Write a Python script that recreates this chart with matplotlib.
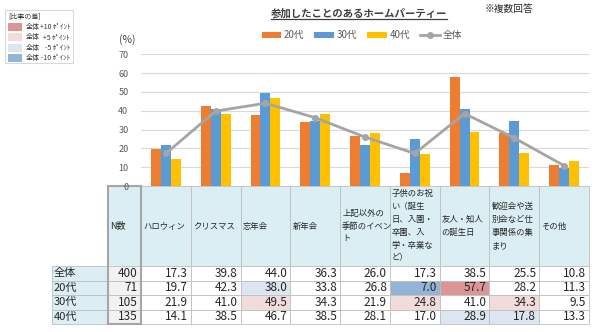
import matplotlib.pyplot as plt
from matplotlib.patches import Rectangle
from matplotlib.lines import Line2D
import numpy as np

plt.rcParams['font.family'] = ['Noto Sans CJK JP', 'DejaVu Sans']

categories = ['ハロウィン', 'クリスマス', '忘年会', '新年会',
              '上記以外の\n季節のイベン\nト',
              '子供のお祝\nい（誕生\n日、入園・\n卒園、入\n学・卒業な\nど）',
              '友人・知人\nの誕生日',
              '歓迎会や送\n別会など仕\n事関係の集\nまり',
              'その他']
groups = ['全体', '20代', '30代', '40代']
n_counts = [400, 71, 105, 135]
total = [17.3, 39.8, 44.0, 36.3, 26.0, 17.3, 38.5, 25.5, 10.8]
age20 = [19.7, 42.3, 38.0, 33.8, 26.8, 7.0, 57.7, 28.2, 11.3]
age30 = [21.9, 41.0, 49.5, 34.3, 21.9, 24.8, 41.0, 34.3, 9.5]
age40 = [14.1, 38.5, 46.7, 38.5, 28.1, 17.0, 28.9, 17.8, 13.3]
diff_labels = ['+10 ﾎﾟｲﾝﾄ', '+5 ﾎﾟｲﾝﾄ', '-5 ﾎﾟｲﾝﾄ', '-10 ﾎﾟｲﾝﾄ']

ORANGE, BLUE, YELLOW, GRAY = '#ED7D31', '#5B9BD5', '#FFC000', '#A5A5A5'
HEAD = '#DAEEF3'
DIFF_COLORS = ['#DA9694', '#F2DCDB', '#DCE6F1', '#95B3D7']

W, H = 600, 332
fig = plt.figure(figsize=(W / 100, H / 100), dpi=100)

# table / annotation layer in pixel coordinates
tab = fig.add_axes([0, 0, 1, 1], zorder=0)
tab.set_xlim(0, W)
tab.set_ylim(H, 0)
tab.axis('off')

# chart area
x0, x1 = 141, 589
y_zero, y_top = 186, 54.3
ax = fig.add_axes([x0 / W, (H - y_zero) / H, (x1 - x0) / W, (y_zero - y_top) / H], zorder=1)
ax.patch.set_alpha(0)

x = np.arange(len(categories))
w = 0.2
b20 = ax.bar(x - w, age20, w, color=ORANGE, label='20代', zorder=2)
b30 = ax.bar(x, age30, w, color=BLUE, label='30代', zorder=2)
b40 = ax.bar(x + w, age40, w, color=YELLOW, label='40代', zorder=2)
ln, = ax.plot(x, total, color=GRAY, lw=2, marker='o', ms=4, label='全体', zorder=3)

ax.set_xlim(-0.5, len(categories) - 0.5)
ax.set_ylim(0, 70)
ax.set_yticks(range(0, 80, 10))
ax.set_xticks([])
ax.tick_params(axis='y', length=0, pad=9, labelsize=6.5, labelcolor='#595959')
ax.grid(axis='y', color='#D9D9D9', lw=0.8)
ax.set_axisbelow(True)
for s in ax.spines.values():
    s.set_visible(False)

fig.legend(handles=[b20, b30, b40, ln], loc='center', bbox_to_anchor=(0.603, 0.894),
           ncol=4, frameon=False, fontsize=7, handlelength=2.0, handleheight=0.5,
           columnspacing=1.0, handletextpad=0.3, labelcolor='#595959')

# titles
title = fig.text(359 / W, 1 - 13 / H, '参加したことのあるホームパーティー',
                 ha='center', va='center', fontsize=7.5, weight='bold', color='#404040')
fig.canvas.draw()
bb = title.get_window_extent()
fig.add_artist(Line2D([bb.x0 / W, bb.x1 / W], [(bb.y0 - 1) / H] * 2,
                      color='#404040', lw=0.9))
fig.text(485 / W, 1 - 9 / H, '※複数回答', ha='left', va='center', fontsize=7, color='#262626')
tab.text(127, 40, '(%)', ha='center', va='center', fontsize=7.5, color='#404040')

# difference legend box
tab.add_patch(Rectangle((5, 10), 68, 53, fc='white', ec='#D9D9D9', lw=0.8))
tab.text(8, 17, '[比率の差]', fontsize=5, va='center', color='#333333')
for i, (c, lab) in enumerate(zip(DIFF_COLORS, diff_labels)):
    yy = 27 + i * 10.3
    tab.add_patch(Rectangle((8, yy - 4), 14, 8, fc=c, ec='none'))
    tab.text(26, yy, '全体', fontsize=5, va='center', color='#333333')
    tab.text(70, yy, lab, fontsize=5, va='center', ha='right', color='#333333')

# table
col_w = (x1 - x0) / len(categories)
head_top, head_bot, row_h = 186, 266, 14.5
n_left = 108

for i, cat in enumerate(categories):
    cx = x0 + i * col_w
    tab.add_patch(Rectangle((cx, head_top), col_w, head_bot - head_top,
                            fc=HEAD, ec='#BFBFBF', lw=0.6))
    tab.text(cx + 2, (head_top + head_bot) / 2, cat, ha='left', va='center',
             fontsize=6, linespacing=1.55, color='#262626')

tab.add_patch(Rectangle((n_left, head_top), x0 - n_left, head_bot - head_top,
                        fc=HEAD, ec='none'))
tab.text(n_left + 2, (head_top + head_bot) / 2, 'N数', ha='left', va='center',
         fontsize=6.5, color='#262626')

rows = [total, age20, age30, age40]
for r, (g, n, vals) in enumerate(zip(groups, n_counts, rows)):
    ry = head_bot + r * row_h
    tab.add_patch(Rectangle((52, ry), n_left - 52, row_h, fc=HEAD, ec='#BFBFBF', lw=0.6))
    tab.text(54, ry + row_h / 2, g, ha='left', va='center', fontsize=8, color='#262626')
    tab.add_patch(Rectangle((n_left, ry), x0 - n_left, row_h, fc='#F2F2F2', ec='#BFBFBF', lw=0.6))
    tab.text(x0 - 3, ry + row_h / 2, str(n), ha='right', va='center', fontsize=8.5, color='#262626')
    for i, v in enumerate(vals):
        fc = 'white'
        if r > 0:
            d = v - total[i]
            if d >= 10:
                fc = DIFF_COLORS[0]
            elif d >= 5:
                fc = DIFF_COLORS[1]
            elif d <= -10:
                fc = DIFF_COLORS[3]
            elif d <= -5:
                fc = DIFF_COLORS[2]
        cx = x0 + i * col_w
        tab.add_patch(Rectangle((cx, ry), col_w, row_h, fc=fc, ec='#BFBFBF', lw=0.6))
        tab.text(cx + col_w - 3, ry + row_h / 2, f'{v:.1f}', ha='right', va='center',
                 fontsize=8.5, color='#262626')

# thick frame around the N column
tab.add_patch(Rectangle((n_left, head_top), x0 - n_left, head_bot + 4 * row_h - head_top,
                        fc='none', ec='#A6A6A6', lw=1.5))

fig.savefig('out.png', dpi=100)
